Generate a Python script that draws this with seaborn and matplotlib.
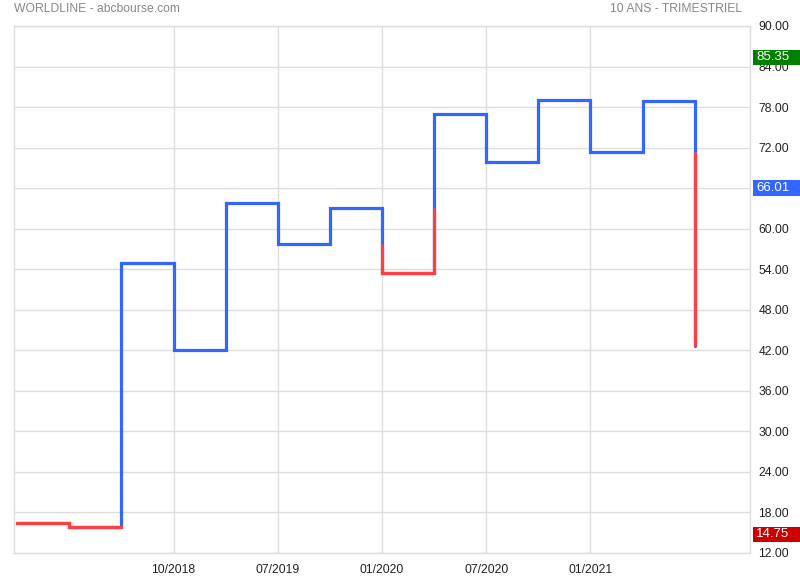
import matplotlib
matplotlib.use('Agg')
import matplotlib.pyplot as plt
import matplotlib.transforms as mtransforms
from matplotlib.patches import Rectangle
import seaborn as sns
import pandas as pd

# quarterly closes (step chart), last value = end of the final vertical drop
closes = [16.5, 15.9, 54.9, 42.0, 63.8, 57.8, 63.0, 53.5, 77.0, 69.9, 79.0, 71.3, 78.9, 42.6]
# horizontal steps drawn in red
red_steps = [0, 1, 7]
# for each vertical jump at x=i: part below this level is red
red_below = {1: 17.0, 7: 57.8, 8: 63.0, 13: 71.3}

tick_pos = [3, 5, 7, 9, 11]
tick_labels = ['10/2018', '07/2019', '01/2020', '07/2020', '01/2021']
yticks = [12, 18, 24, 30, 36, 42, 48, 54, 60, 66, 72, 78, 84, 90]

max_val, last_val, min_val = 85.35, 66.01, 14.75

BLUE = '#3366ff'
RED = '#ff4040'

sns.set_style('white')
plt.rcParams['font.family'] = ['Liberation Sans', 'DejaVu Sans']

fig = plt.figure(figsize=(8, 5.8), dpi=100)
ax = fig.add_axes([0.0175, 0.0466, 0.92, 0.9086])

df = pd.DataFrame({'x': range(len(closes)), 'y': closes})
sns.lineplot(data=df, x='x', y='y', drawstyle='steps-post', color=BLUE,
             linewidth=2.3, ax=ax, solid_joinstyle='miter')

# red overlays
for i in red_steps:
    ax.plot([i, i + 1], [closes[i], closes[i]], color=RED, lw=2.3,
            solid_capstyle='projecting', zorder=3)
for i, lvl in red_below.items():
    lo = min(closes[i - 1], closes[i])
    hi = min(max(closes[i - 1], closes[i]), lvl)
    ax.plot([i, i], [lo, hi], color=RED, lw=2.3, solid_capstyle='butt', zorder=3)

ax.set_xlim(-0.06, 14.06)
ax.set_ylim(12, 90)
ax.set_xticks(tick_pos)
ax.set_xticklabels(tick_labels)
ax.set_yticks(yticks)
ax.set_yticklabels([f'{v:.2f}' for v in yticks])
ax.yaxis.tick_right()
ax.tick_params(axis='both', length=0, labelsize=8.7, colors='#222222')
ax.tick_params(axis='y', pad=6)
ax.tick_params(axis='x', pad=8)
ax.set_xlabel('')
ax.set_ylabel('')
ax.grid(True, color='#dddddd', lw=1)
for s in ['left', 'top', 'bottom', 'right']:
    ax.spines[s].set_color('#dddddd')
    ax.spines[s].set_linewidth(1)

# value badges on the right axis
trans = mtransforms.blended_transform_factory(fig.transFigure, ax.transData)
for v, c in [(max_val, '#008000'), (last_val, BLUE), (min_val, '#cc0000')]:
    ax.add_patch(Rectangle((753 / 800, v - 1.15), 1 - 753 / 800, 2.3,
                           transform=trans, fc=c, ec='none', zorder=5,
                           clip_on=False))
    ax.text(756 / 800, v, f'{v:.2f}', transform=trans,
            va='center', ha='left', fontsize=9.5, color='white', zorder=6,
            clip_on=False)

fig.text(0.0175, 0.985, 'WORLDLINE - abcbourse.com', ha='left', va='center',
         fontsize=8.7, color='#888888')
fig.text(0.928, 0.985, '10 ANS - TRIMESTRIEL', ha='right', va='center',
         fontsize=8.7, color='#888888')

fig.savefig('out.png', dpi=100)
